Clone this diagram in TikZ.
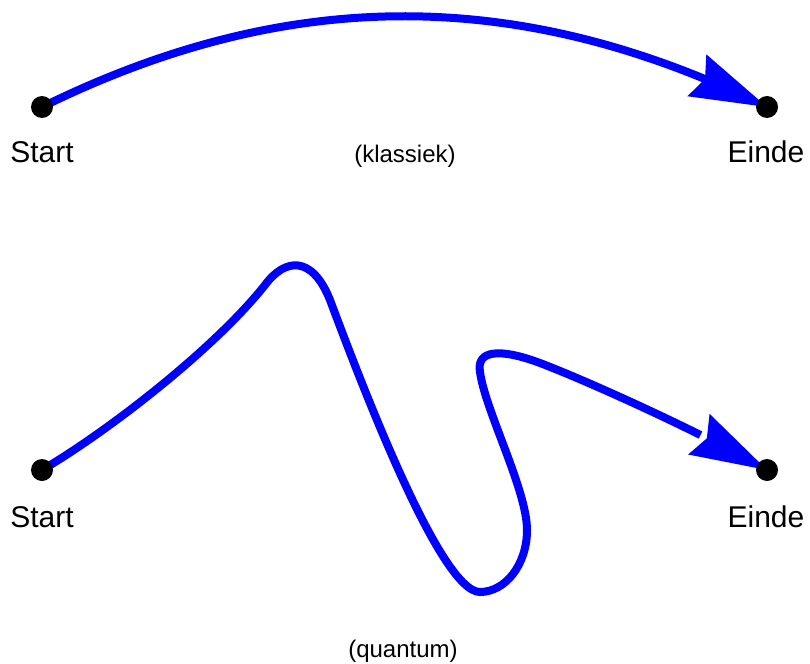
\documentclass[tikz,border=0pt]{standalone}
\usepackage{fontspec}
\setmainfont{Liberation Sans}
\usetikzlibrary{arrows.meta,bending,backgrounds}
\begin{document}
\begin{tikzpicture}[x=1pt,y=-1pt,
  curve/.style={draw=blue, line width=8pt,
    -{Stealth[length=77pt,width=46pt,inset=9pt,line width=0pt,flex]}},
  dot/.style={circle, fill=black, inner sep=0pt, minimum size=22pt},
  lbl/.style={font=\fontsize{30}{36}\selectfont, anchor=base, inner sep=0pt},
  captxt/.style={font=\fontsize{24}{29}\selectfont, anchor=base, inner sep=0pt}]
\useasboundingbox (0,0) rectangle (810,663);
% top: classical
\node[dot] (s1) at (42,107) {};
\node[dot] (e1) at (767,107) {};
\node[lbl] (ls1) at (42,163) {Start};
\node[lbl] (le1) at (766,163) {Einde};
\node[captxt] (c1) at (405,163) {(klassiek)};
% bottom: quantum
\node[dot] (s2) at (42,470) {};
\node[dot] (e2) at (767,470) {};
\node[lbl] (ls2) at (42,527) {Start};
\node[lbl] (le2) at (766,527) {Einde};
\node[captxt] (c2) at (403,657) {(quantum)};
\begin{scope}[on background layer]
\draw[curve] (s1.center) .. controls (288,-14) and (520,-14) .. (e1.center);
\draw[curve] (s2.center)
  .. controls (110,430) and (215,348) .. (265,285)
  .. controls (285,258) and (312,255) .. (330,300)
  .. controls (360,380) and (440,592) .. (480,592)
  .. controls (505,592) and (527,565) .. (527,530)
  .. controls (527,490) and (485,410) .. (480,372)
  .. controls (476,350) and (500,348) .. (540,363)
  .. controls (590,382) and (700,432) .. (e2.center);
\end{scope}
\end{tikzpicture}
\end{document}
